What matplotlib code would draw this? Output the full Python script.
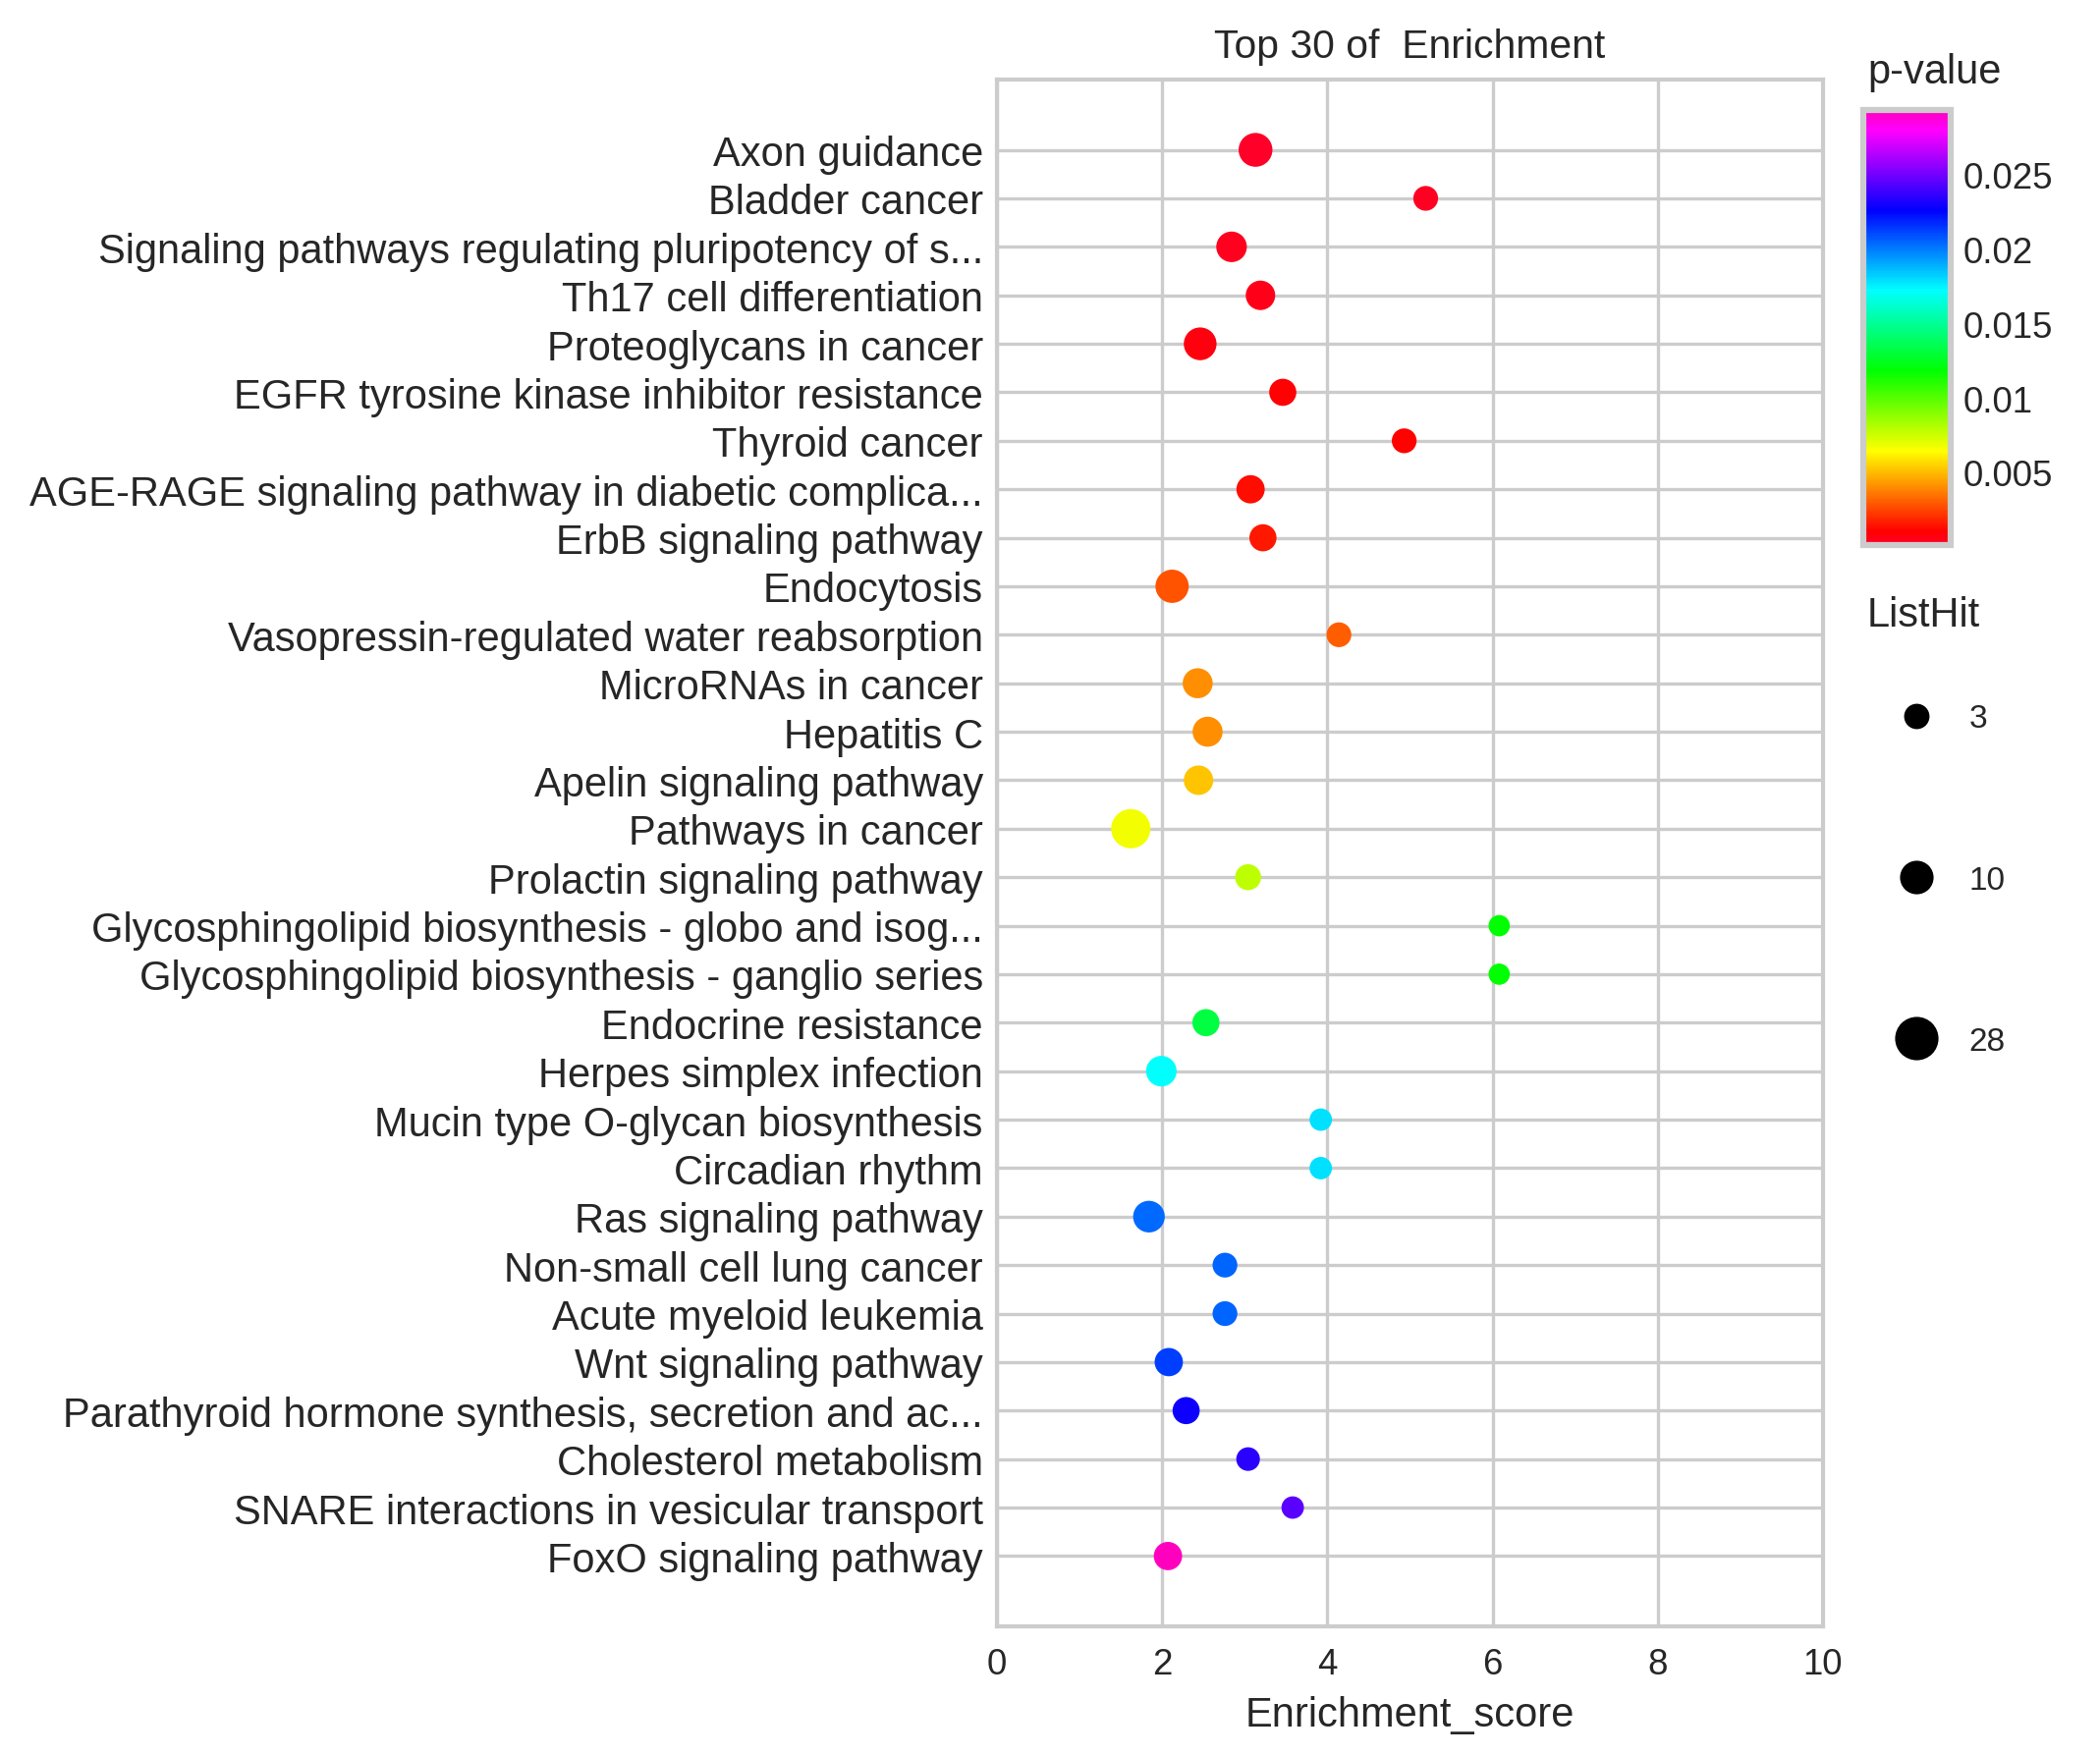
import numpy as np
import matplotlib
matplotlib.use("Agg")
import matplotlib.pyplot as plt
from matplotlib.lines import Line2D
from matplotlib.colors import Normalize

pathways = [
    "Axon guidance",
    "Bladder cancer",
    "Signaling pathways regulating pluripotency of s...",
    "Th17 cell differentiation",
    "Proteoglycans in cancer",
    "EGFR tyrosine kinase inhibitor resistance",
    "Thyroid cancer",
    "AGE-RAGE signaling pathway in diabetic complica...",
    "ErbB signaling pathway",
    "Endocytosis",
    "Vasopressin-regulated water reabsorption",
    "MicroRNAs in cancer",
    "Hepatitis C",
    "Apelin signaling pathway",
    "Pathways in cancer",
    "Prolactin signaling pathway",
    "Glycosphingolipid biosynthesis - globo and isog...",
    "Glycosphingolipid biosynthesis - ganglio series",
    "Endocrine resistance",
    "Herpes simplex infection",
    "Mucin type O-glycan biosynthesis",
    "Circadian rhythm",
    "Ras signaling pathway",
    "Non-small cell lung cancer",
    "Acute myeloid leukemia",
    "Wnt signaling pathway",
    "Parathyroid hormone synthesis, secretion and ac...",
    "Cholesterol metabolism",
    "SNARE interactions in vesicular transport",
    "FoxO signaling pathway",
]
enrichment_score = [3.13, 5.19, 2.84, 3.19, 2.46, 3.46, 4.93, 3.07, 3.22, 2.12,
                    4.14, 2.43, 2.55, 2.44, 1.62, 3.04, 6.08, 6.08, 2.53, 1.99,
                    3.92, 3.92, 1.84, 2.76, 2.76, 2.08, 2.29, 3.04, 3.58, 2.07]
p_value = [0.00012, 0.0003, 0.0004, 0.0005, 0.0008, 0.0010, 0.0011, 0.0013, 0.0016, 0.0028,
           0.0030, 0.0040, 0.0041, 0.0052, 0.0067, 0.0078, 0.0118, 0.0118, 0.0132, 0.0172,
           0.0179, 0.0179, 0.0203, 0.0205, 0.0205, 0.0213, 0.0229, 0.0234, 0.0245, 0.0293]
list_hit = [18, 6, 12, 10, 16, 8, 6, 9, 8, 17,
            6, 11, 11, 10, 28, 7, 3, 3, 8, 12,
            4, 4, 14, 6, 6, 9, 8, 5, 4, 9]
legend_hits = [3, 10, 28]
legend_diam_pt = [5.2, 7.2, 9.6]

plt.rcParams['font.family'] = ['Liberation Sans', 'DejaVu Sans']
plt.rcParams['text.color'] = '0.15'
plt.rcParams['axes.labelcolor'] = '0.15'
plt.rcParams['xtick.color'] = '0.15'
plt.rcParams['ytick.color'] = '0.15'

W, H = 2138, 1789
dpi = 300
fig = plt.figure(figsize=(W / dpi, H / dpi), dpi=dpi)

ax = fig.add_axes([1015 / W, 1 - 1657 / H, (1856 - 1015) / W, (1657 - 82) / H])

n = len(pathways)
ypos = np.arange(n)
norm = Normalize(vmin=min(p_value), vmax=max(p_value))
cmap = plt.get_cmap('gist_rainbow')
sizes = np.interp(list_hit, legend_hits, legend_diam_pt) ** 2

sc = ax.scatter(enrichment_score, ypos, s=sizes, c=p_value, cmap=cmap, norm=norm,
                linewidths=0, zorder=3)

ax.set_yticks(ypos)
ax.set_yticklabels(pathways, fontsize=10)
ax.set_ylim(n - 1 + 1.45, -1.45)
ax.set_xlim(0, 10)
ax.set_xticks([0, 2, 4, 6, 8, 10])
ax.tick_params(axis='x', labelsize=8.8, length=0, pad=5)
ax.tick_params(axis='y', length=0, pad=3.4)
ax.grid(True, color='#cccccc', linewidth=0.8, zorder=0)
ax.set_axisbelow(True)
for sp in ax.spines.values():
    sp.set_color('#cccccc')
    sp.set_linewidth(1.0)
ax.set_xlabel("Enrichment_score", fontsize=10, labelpad=3.5)
ax.set_title("Top 30 of  Enrichment", fontsize=9.8, pad=5.5)

# colorbar
cax = fig.add_axes([1897 / W, 1 - 556 / H, 89 / W, (556 - 113) / H])
cb = fig.colorbar(sc, cax=cax)
cb.set_ticks([0.005, 0.01, 0.015, 0.02, 0.025])
cb.set_ticklabels(["0.005", "0.01", "0.015", "0.02", "0.025"])
cb.ax.tick_params(labelsize=8.8, length=0, pad=3)
cb.outline.set_edgecolor('#cccccc')
cb.outline.set_linewidth(1.5)
fig.text(1901 / W, 1 - 74 / H, "p-value", fontsize=10, ha='left', va='center')

# size legend
fig.text(1901 / W, 1 - 627 / H, "ListHit", fontsize=10, ha='left', va='center')
handles = [Line2D([], [], marker='o', linestyle='', color='black',
                  markersize=d) for d in legend_diam_pt]
leg = fig.legend(handles, [str(h) for h in legend_hits],
                 loc='center left', bbox_to_anchor=(1901 / W, 1 - 897 / H),
                 frameon=False, fontsize=8,
                 labelspacing=4.0, handlelength=3.0, handletextpad=0.1,
                 borderpad=0, borderaxespad=0)

fig.savefig("out.png", dpi=dpi)
